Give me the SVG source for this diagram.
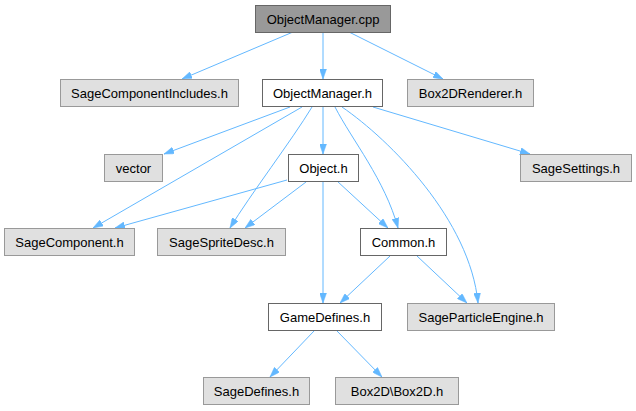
<svg xmlns="http://www.w3.org/2000/svg" width="636" height="411" viewBox="0 0 636 411">
<style>
  .n rect { stroke-width: 1; }
  .cur rect { fill: #999999; stroke: #666666; }
  .doc rect { fill: #ffffff; stroke: #666666; }
  .ext rect { fill: #e0e0e0; stroke: #999999; }
  text { font-family: "Liberation Sans", Arial, sans-serif; font-size: 13px; fill: #000000; text-anchor: middle; }
  .e path { fill: none; stroke: #63b8ff; stroke-width: 1; marker-end: url(#ah); }
</style>
<defs>
  <marker id="ah" viewBox="0 0 10 7" refX="10" refY="3.5" markerWidth="10" markerHeight="7" markerUnits="userSpaceOnUse" orient="auto">
    <path d="M0,0 L10,3.5 L0,7 z" fill="#63b8ff" stroke="#63b8ff" stroke-width="0.5"/>
  </marker>
</defs>
<g id="edges" class="e">
  <path d="M293,32 L182,79"/>
  <path d="M323,32 L323,79"/>
  <path d="M349,32 L443,79"/>
  <path d="M290,107 L164,154"/>
  <path d="M323,107 L323,154"/>
  <path d="M373,107 L530,154"/>
  <path d="M302,107 L93,228"/>
  <path d="M312,107 C292,140 250,195 230,228"/>
  <path d="M335,107 C352,140 385,180 398,228"/>
  <path d="M342,107 C390,140 470,220 478,303"/>
  <path d="M287,180 L115,228"/>
  <path d="M306,182 L245,228"/>
  <path d="M337,181 L388,228"/>
  <path d="M323,181 L323,303"/>
  <path d="M390,256 L340,303"/>
  <path d="M417,256 L467,303"/>
  <path d="M314,331 L270,377"/>
  <path d="M337,331 L382,377"/>
</g>
<g id="n_objectmanager_cpp" class="n cur"><rect x="255.5" y="5.5" width="135" height="27"/><text x="323" y="23.5">ObjectManager.cpp</text></g>
<g id="n_sagecomponentincludes" class="n ext"><rect x="60.5" y="79.5" width="178" height="27"/><text x="149.5" y="97.5">SageComponentIncludes.h</text></g>
<g id="n_objectmanager_h" class="n doc"><rect x="262.5" y="79.5" width="120" height="27"/><text x="322.5" y="97.5">ObjectManager.h</text></g>
<g id="n_box2drenderer" class="n ext"><rect x="407.5" y="79.5" width="126" height="27"/><text x="470.5" y="97.5">Box2DRenderer.h</text></g>
<g id="n_vector" class="n ext"><rect x="104.5" y="154.5" width="58" height="27"/><text x="133.5" y="172.5">vector</text></g>
<g id="n_object_h" class="n doc"><rect x="288.5" y="154.5" width="70" height="27"/><text x="323.5" y="172.5">Object.h</text></g>
<g id="n_sagesettings" class="n ext"><rect x="520.5" y="154.5" width="111" height="27"/><text x="576" y="172.5">SageSettings.h</text></g>
<g id="n_sagecomponent" class="n ext"><rect x="4.5" y="228.5" width="130" height="27"/><text x="69.5" y="246.5">SageComponent.h</text></g>
<g id="n_sagespritedesc" class="n ext"><rect x="157.5" y="228.5" width="128" height="27"/><text x="221.5" y="246.5">SageSpriteDesc.h</text></g>
<g id="n_common" class="n doc"><rect x="360.5" y="228.5" width="86" height="27"/><text x="403.5" y="246.5">Common.h</text></g>
<g id="n_gamedefines" class="n doc"><rect x="268.5" y="303.5" width="113" height="27"/><text x="325" y="321.5">GameDefines.h</text></g>
<g id="n_sageparticleengine" class="n ext"><rect x="407.5" y="303.5" width="147" height="27"/><text x="481" y="321.5">SageParticleEngine.h</text></g>
<g id="n_sagedefines" class="n ext"><rect x="203.5" y="377.5" width="106" height="27"/><text x="256.5" y="395.5">SageDefines.h</text></g>
<g id="n_box2d" class="n ext"><rect x="335.5" y="377.5" width="123" height="27"/><text x="397" y="395.5">Box2D\Box2D.h</text></g>
</svg>
